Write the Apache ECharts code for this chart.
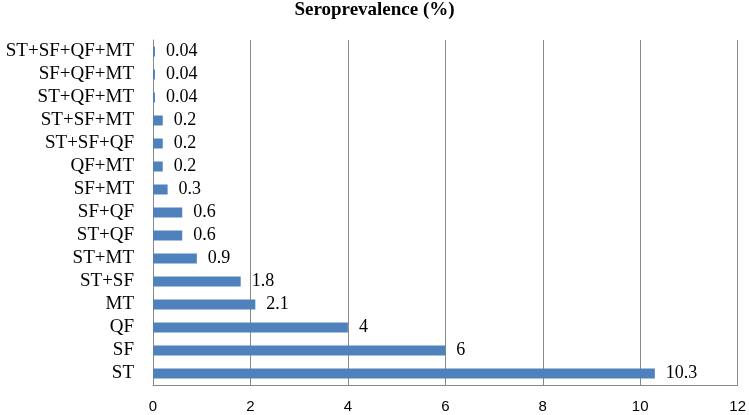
<!DOCTYPE html>
<html>
<head>
<meta charset="utf-8">
<script src="https://cdn.jsdelivr.net/npm/echarts@6/dist/echarts.min.js"></script>
<style>html,body{margin:0;padding:0;background:#fff;}#c{width:749px;height:415px;}</style>
</head>
<body>
<div id="c"></div>
<script>
const categories = ['ST','SF','QF','MT','ST+SF','ST+MT','ST+QF','SF+QF','SF+MT','QF+MT','ST+SF+QF','ST+SF+MT','ST+QF+MT','SF+QF+MT','ST+SF+QF+MT'];
const values = [10.3, 6, 4, 2.1, 1.8, 0.9, 0.6, 0.6, 0.3, 0.2, 0.2, 0.2, 0.04, 0.04, 0.04];
const xTicks = [0, 2, 4, 6, 8, 10, 12];

const chart = echarts.init(document.getElementById('c'), null, {renderer: 'canvas'});
chart.setOption({
  animation: false,
  title: {
    text: 'Seroprevalence (%)',
    left: 'center',
    top: 0,
    padding: [1, 5, 5, 5],
    textStyle: {fontFamily: 'Liberation Serif', fontWeight: 'bold', fontSize: 19, color: '#000'}
  },
  grid: {left: 153, right: 11, top: 40, bottom: 30, containLabel: false},
  xAxis: {
    type: 'value',
    min: xTicks[0],
    max: xTicks[xTicks.length - 1],
    interval: 2,
    axisLine: {show: true, lineStyle: {color: '#888', width: 1}},
    axisTick: {show: false},
    axisLabel: {fontFamily: 'Liberation Sans', fontSize: 15, color: '#000', margin: 14},
    splitLine: {show: true, lineStyle: {color: '#888', width: 1}}
  },
  yAxis: {
    type: 'category',
    data: categories,
    axisLine: {show: true, lineStyle: {color: '#888', width: 1}},
    axisTick: {show: false},
    axisLabel: {interval: 0, fontFamily: 'Liberation Serif', fontSize: 19, color: '#000', margin: 19}
  },
  series: [{
    type: 'bar',
    data: values,
    barWidth: 10,
    itemStyle: {color: '#4F81BD'},
    label: {
      show: true,
      position: 'right',
      distance: 11,
      fontFamily: 'Liberation Serif',
      fontSize: 18,
      color: '#000'
    }
  }]
});
</script>
</body>
</html>
